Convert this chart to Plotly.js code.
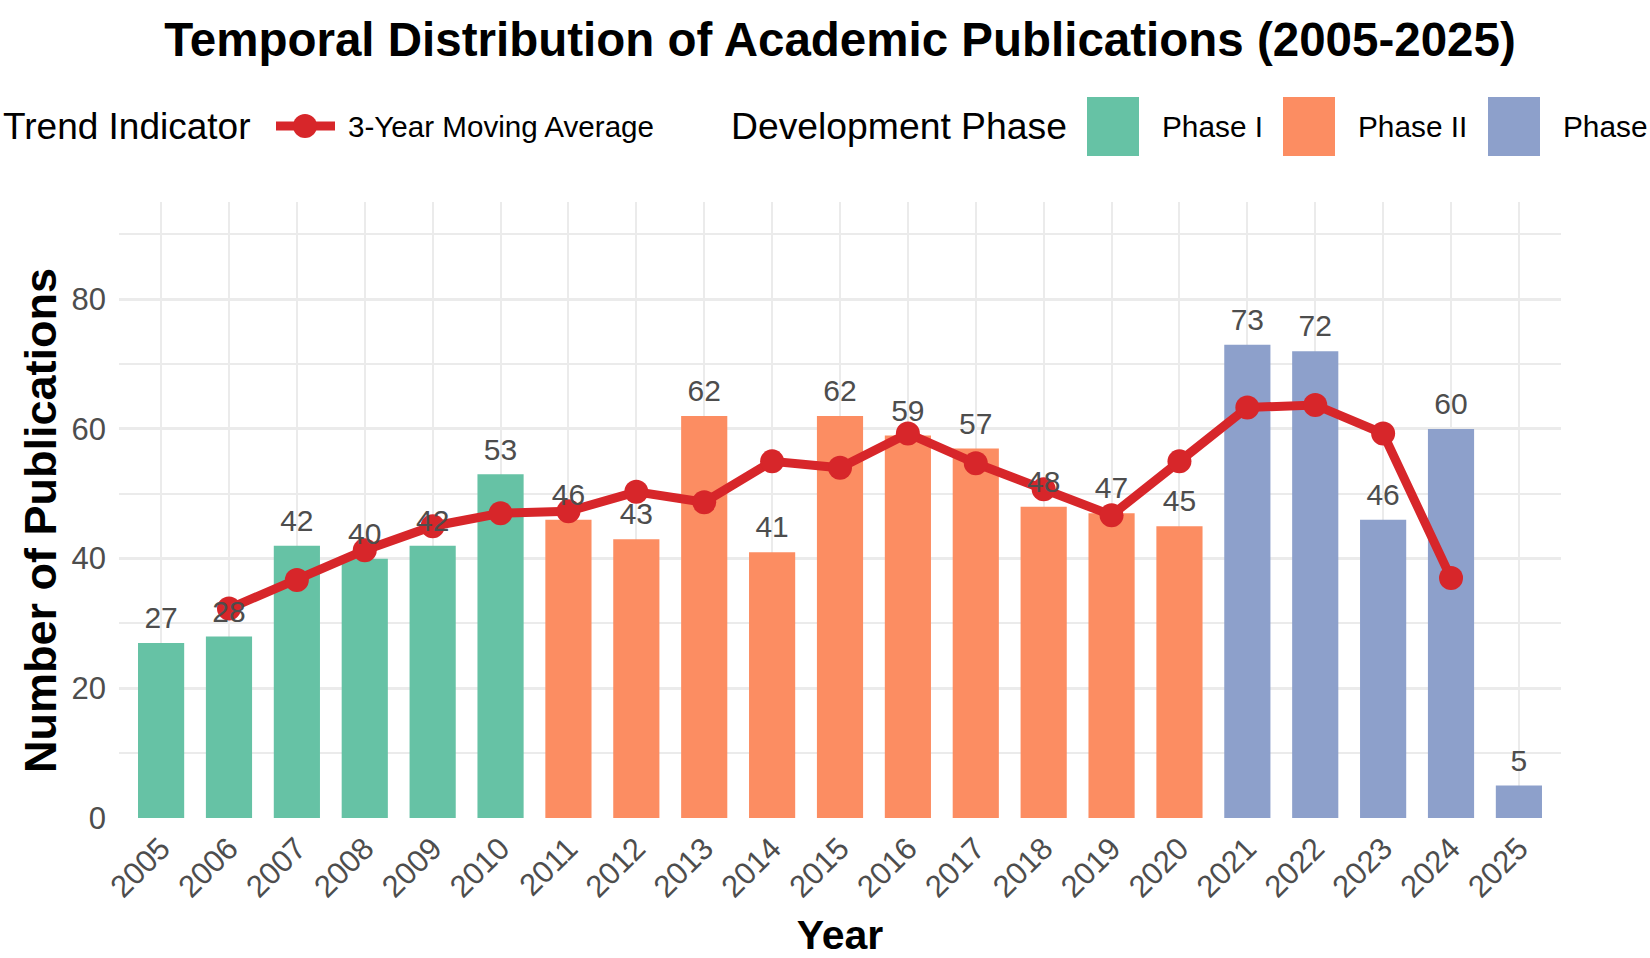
<!DOCTYPE html>
<html>
<head>
<meta charset="utf-8">
<script src="https://cdn.plot.ly/plotly-3.0.1.min.js"></script>
<style>
  html, body { margin: 0; padding: 0; background: #fff; }
  #chart { width: 1650px; height: 958px; }
</style>
</head>
<body>
<div id="chart"></div>
<script>
const years = ['2005', '2006', '2007', '2008', '2009', '2010', '2011', '2012', '2013', '2014',
  '2015', '2016', '2017', '2018', '2019', '2020', '2021', '2022', '2023', '2024', '2025'];
const publications = [27, 28, 42, 40, 42, 53, 46, 43, 62, 41, 62, 59, 57, 48, 47, 45, 73, 72, 46, 60, 5];
const yearPhase = ['Phase I', 'Phase I', 'Phase I', 'Phase I', 'Phase I', 'Phase I',
  'Phase II', 'Phase II', 'Phase II', 'Phase II', 'Phase II', 'Phase II', 'Phase II', 'Phase II', 'Phase II', 'Phase II',
  'Phase III', 'Phase III', 'Phase III', 'Phase III', 'Phase III'];
const phaseNames = ['Phase I', 'Phase II', 'Phase III'];
const phaseColors = ['#66C2A5', '#FC8D62', '#8DA0CB'];

// 3-year moving average
const avgYears = ['2006', '2007', '2008', '2009', '2010', '2011', '2012', '2013', '2014', '2015',
  '2016', '2017', '2018', '2019', '2020', '2021', '2022', '2023', '2024'];
const movingAvg = [32.3, 36.7, 41.3, 45.0, 47.0, 47.3, 50.3, 48.7, 55.0, 54.0,
  59.3, 54.7, 50.7, 46.7, 55.0, 63.3, 63.7, 59.3, 37.0];

const yTicks = [0, 20, 40, 60, 80];

const FONT = 'Liberation Sans, Arial, Helvetica, sans-serif';
const lineRed = '#D7262A';
const gridColor = '#EBEBEB';
const tickGrey = '#4D4D4D';

// plot area in pixels
const M = { l: 119, r: 89, t: 202, b: 140 };
const W = 1650, H = 958;
const PW = W - M.l - M.r, PH = H - M.t - M.b;
const px = x => (x - M.l) / PW;
const py = y => (H - M.b - y) / PH;

// one bar trace per phase
const barTraces = phaseNames.map((phase, i) => {
  const idx = years.map((y, j) => j).filter(j => yearPhase[j] === phase);
  return {
    type: 'bar',
    name: phase,
    x: idx.map(j => years[j]),
    y: idx.map(j => publications[j]),
    width: 0.68,
    marker: { color: phaseColors[i], line: { width: 0 } },
    showlegend: false,
    hovertemplate: '%{x}: %{y}<extra>' + phase + '</extra>'
  };
});

const avgTrace = {
  type: 'scatter',
  mode: 'lines+markers',
  name: '3-Year Moving Average',
  x: avgYears,
  y: movingAvg,
  line: { color: lineRed, width: 9 },
  marker: { color: lineRed, size: 24 },
  showlegend: false,
  cliponaxis: false
};

// value labels above the bars
const labelTrace = {
  type: 'scatter',
  mode: 'markers+text',
  x: years,
  y: publications,
  text: publications.map(String),
  textposition: 'top center',
  textfont: { family: FONT, size: 30, color: tickGrey },
  marker: { size: 10, opacity: 0 },
  hoverinfo: 'skip',
  showlegend: false,
  cliponaxis: false
};

// hand-built legend across the top (ggplot style, large swatches)
const legY = 126;
const shapes = [];
const annotations = [];

function legendText(text, x, size) {
  annotations.push({
    xref: 'paper', yref: 'paper', x: px(x), y: py(legY),
    xanchor: 'left', yanchor: 'middle', showarrow: false,
    text: text, font: { family: FONT, size: size, color: '#000' }
  });
}

legendText('Trend Indicator', 1, 37);
shapes.push({
  type: 'line', xref: 'paper', yref: 'paper',
  x0: px(276), x1: px(335), y0: py(legY), y1: py(legY),
  line: { color: lineRed, width: 9 }
});
shapes.push({
  type: 'circle', xref: 'paper', yref: 'paper',
  x0: px(305 - 12), x1: px(305 + 12), y0: py(legY - 12), y1: py(legY + 12),
  fillcolor: lineRed, line: { width: 0 }
});
legendText('3-Year Moving Average', 346, 29.6);
legendText('Development Phase', 729, 37.3);

const swatchX = [1087, 1283, 1488];
phaseNames.forEach((phase, i) => {
  shapes.push({
    type: 'rect', xref: 'paper', yref: 'paper',
    x0: px(swatchX[i]), x1: px(swatchX[i] + 52),
    y0: py(97), y1: py(156),
    fillcolor: phaseColors[i], line: { width: 0 }
  });
  legendText(phase, swatchX[i] + 73, 29.8);
});

// y axis title placed like ggplot's
annotations.push({
  xref: 'paper', yref: 'paper', x: px(40), y: py(521),
  xanchor: 'center', yanchor: 'middle', showarrow: false, textangle: -90,
  text: 'Number of Publications',
  font: { family: FONT, size: 45, color: '#000', weight: 'bold' }
});

const layout = {
  width: W,
  height: H,
  margin: M,
  paper_bgcolor: '#fff',
  plot_bgcolor: '#fff',
  barmode: 'overlay',
  showlegend: false,
  font: { family: FONT, color: tickGrey },
  title: {
    text: 'Temporal Distribution of Academic Publications (2005-2025)',
    font: { family: FONT, size: 47.5, color: '#000', weight: 'bold' },
    xref: 'paper', x: 0.5, xanchor: 'center',
    yref: 'container', y: 1 - 39 / H, yanchor: 'middle'
  },
  xaxis: {
    type: 'category',
    categoryorder: 'array',
    categoryarray: years,
    range: [-0.62, 20.62],
    tickangle: -45,
    tickfont: { family: FONT, size: 31, color: tickGrey },
    ticks: '',
    ticklabelstandoff: 5,
    showgrid: true,
    gridcolor: gridColor,
    gridwidth: 2,
    zeroline: false,
    showline: false,
    title: {
      text: 'Year',
      font: { family: FONT, size: 41, color: '#000', weight: 'bold' },
      standoff: 20
    },
    automargin: false
  },
  yaxis: {
    range: [0, 95],
    tickvals: yTicks,
    ticktext: yTicks.map(String),
    tickfont: { family: FONT, size: 31, color: tickGrey },
    ticks: '',
    ticklabelstandoff: 12,
    showgrid: true,
    gridcolor: gridColor,
    gridwidth: 3,
    minor: { dtick: 10, showgrid: true, gridcolor: gridColor, gridwidth: 1.5 },
    zeroline: false,
    showline: false,
    automargin: false
  },
  shapes: shapes,
  annotations: annotations
};

Plotly.newPlot('chart', [...barTraces, avgTrace, labelTrace], layout, { displayModeBar: false });
</script>
</body>
</html>
